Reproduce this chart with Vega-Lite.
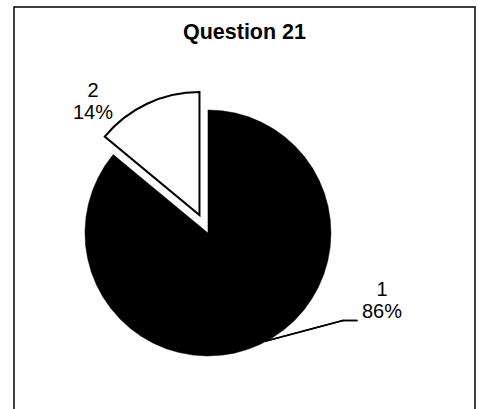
{
  "$schema": "https://vega.github.io/schema/vega-lite/v6.json",
  "width": 461,
  "height": 403,
  "autosize": {"type": "none"},
  "padding": {"left": 14, "top": 7, "right": 3, "bottom": 0},
  "background": "white",
  "config": {
    "view": {"stroke": "#000", "strokeWidth": 1.5},
    "font": "Liberation Sans"
  },
  "title": {
    "text": "Question 21",
    "font": "Liberation Sans",
    "fontSize": 21.5,
    "fontWeight": "bold",
    "color": "#000",
    "baseline": "alphabetic",
    "anchor": "middle",
    "frame": "group",
    "offset": -53
  },
  "data": {"values": [{"cat": "1", "pct": 86}, {"cat": "2", "pct": 14}]},
  "transform": [
    {"stack": "pct", "groupby": [], "sort": [{"field": "cat", "order": "ascending"}], "as": ["start", "end"]},
    {"calculate": "[datum.cat, datum.pct + '%']", "as": "label"}
  ],
  "layer": [
    {
      "transform": [{"filter": "datum.cat === '1'"}],
      "mark": {"type": "arc", "outerRadius": 123, "fill": "#000", "stroke": "#000", "strokeWidth": 0.5},
      "encoding": {
        "x": {"datum": 0, "type": "quantitative", "scale": {"domain": [-1.577, 2.171], "nice": false, "zero": false}, "axis": null},
        "y": {"datum": 0, "type": "quantitative", "scale": {"domain": [-1.439, 1.837], "nice": false, "zero": false}, "axis": null},
        "theta": {"field": "start", "type": "quantitative", "stack": null, "scale": {"domain": [0, 100]}},
        "theta2": {"field": "end"}
      }
    },
    {
      "transform": [{"filter": "datum.cat === '2'"}],
      "mark": {"type": "arc", "outerRadius": 123, "fill": "#fff", "stroke": "#000", "strokeWidth": 2, "strokeJoin": "miter"},
      "encoding": {
        "x": {"datum": -0.069, "type": "quantitative", "scale": {"domain": [-1.577, 2.171], "nice": false, "zero": false}, "axis": null},
        "y": {"datum": 0.146, "type": "quantitative", "scale": {"domain": [-1.439, 1.837], "nice": false, "zero": false}, "axis": null},
        "theta": {"field": "start", "type": "quantitative", "stack": null, "scale": {"domain": [0, 100]}},
        "theta2": {"field": "end"}
      }
    },
    {
      "mark": {"type": "rule", "color": "#000", "strokeWidth": 1.5, "strokeCap": "round"},
      "encoding": {
        "x": {"datum": 0.472, "type": "quantitative", "scale": {"domain": [-1.577, 2.171], "nice": false, "zero": false}, "axis": null},
        "y": {"datum": -0.878, "type": "quantitative", "scale": {"domain": [-1.439, 1.837], "nice": false, "zero": false}, "axis": null},
        "x2": {"datum": 1.098},
        "y2": {"datum": -0.711}
      }
    },
    {
      "mark": {"type": "rule", "color": "#000", "strokeWidth": 1.5, "strokeCap": "round"},
      "encoding": {
        "x": {"datum": 1.098, "type": "quantitative", "scale": {"domain": [-1.577, 2.171], "nice": false, "zero": false}, "axis": null},
        "y": {"datum": -0.711, "type": "quantitative", "scale": {"domain": [-1.439, 1.837], "nice": false, "zero": false}, "axis": null},
        "x2": {"datum": 1.211},
        "y2": {"datum": -0.711}
      }
    },
    {
      "transform": [{"filter": "datum.cat === '1'"}],
      "mark": {"type": "text", "font": "Liberation Sans", "fontSize": 20, "lineHeight": 22, "align": "center", "baseline": "alphabetic", "color": "#000"},
      "encoding": {
        "x": {"datum": 1.415, "type": "quantitative", "scale": {"domain": [-1.577, 2.171], "nice": false, "zero": false}, "axis": null},
        "y": {"datum": -0.512, "type": "quantitative", "scale": {"domain": [-1.439, 1.837], "nice": false, "zero": false}, "axis": null},
        "text": {"field": "label"}
      }
    },
    {
      "transform": [{"filter": "datum.cat === '2'"}],
      "mark": {"type": "text", "font": "Liberation Sans", "fontSize": 20, "lineHeight": 22, "align": "center", "baseline": "alphabetic", "color": "#000"},
      "encoding": {
        "x": {"datum": -0.935, "type": "quantitative", "scale": {"domain": [-1.577, 2.171], "nice": false, "zero": false}, "axis": null},
        "y": {"datum": 1.106, "type": "quantitative", "scale": {"domain": [-1.439, 1.837], "nice": false, "zero": false}, "axis": null},
        "text": {"field": "label"}
      }
    }
  ]
}
